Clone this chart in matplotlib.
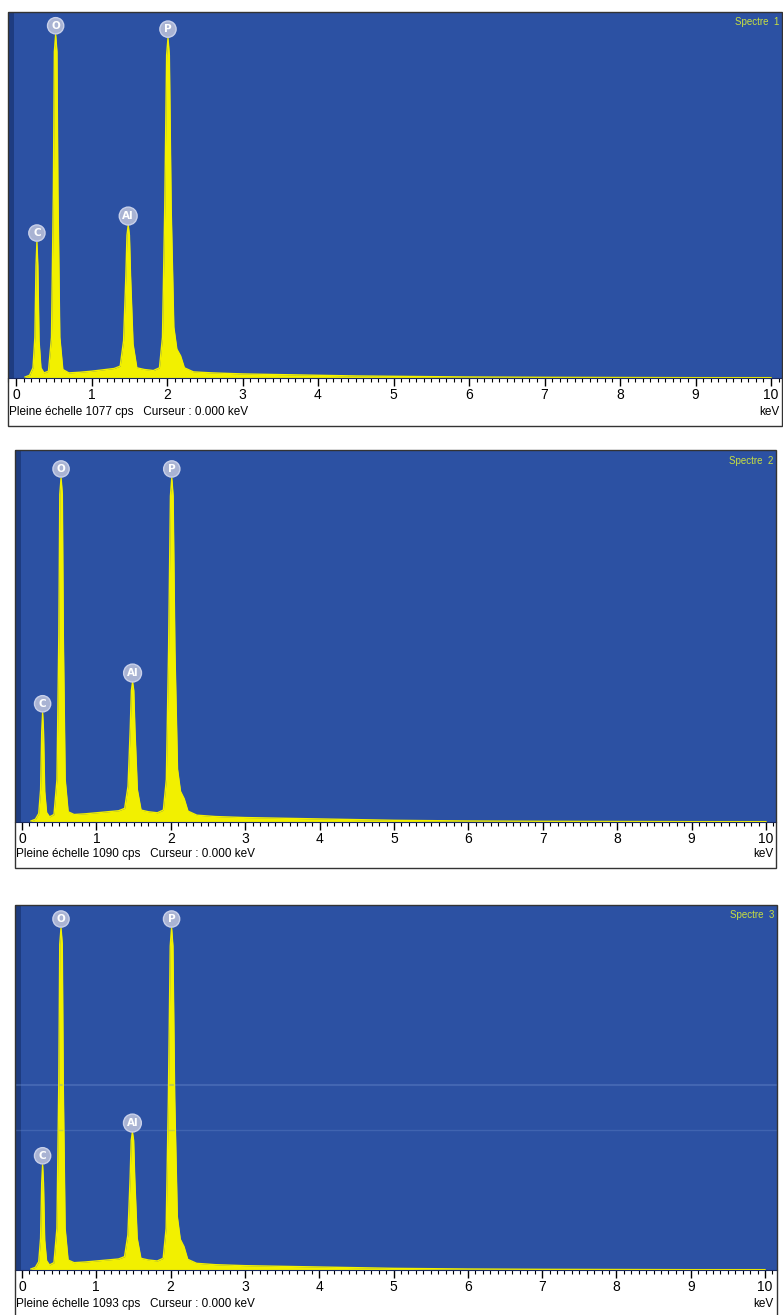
#!/usr/bin/env python3
"""EDS spectra (Spectre 1-3) - three stacked panels, saved as out.png."""

import matplotlib.pyplot as plt
from matplotlib.patches import Rectangle
from matplotlib.ticker import MultipleLocator

W, H = 783, 1315

# ------------------------------------------------------------------
# Data (keV / cps)
# ------------------------------------------------------------------
energy_kev = [0.12, 0.18, 0.225, 0.25, 0.265, 0.277, 0.289, 0.305, 0.33, 0.37,
              0.43, 0.47, 0.495, 0.508, 0.525, 0.542, 0.555, 0.58, 0.62, 0.70,
              0.85, 1.00, 1.15, 1.30, 1.38, 1.425, 1.455, 1.47, 1.486, 1.502,
              1.517, 1.55, 1.60, 1.70, 1.82, 1.90, 1.94, 1.97, 1.995, 2.013,
              2.031, 2.055, 2.09, 2.13, 2.18, 2.23, 2.35, 2.60, 3.0, 3.5,
              4.0, 4.5, 5.0, 5.5, 6.0, 7.0, 8.0, 9.0, 10.0]

spectre1_cps = [3, 8, 30, 120, 330, 400, 330, 110, 30, 15,
                20, 120, 550, 960, 1010, 960, 550, 120, 25, 15,
                17, 20, 24, 28, 35, 110, 300, 420, 450, 420,
                300, 100, 30, 25, 22, 30, 120, 500, 950, 1000,
                950, 500, 150, 85, 65, 30, 18, 15, 12, 10,
                8, 6, 5, 4, 3, 2, 1.5, 1, 1]

spectre2_cps = [3, 8, 25, 95, 265, 320, 265, 90, 28, 15,
                22, 125, 550, 960, 1008, 960, 550, 125, 30, 22,
                24, 27, 30, 33, 40, 105, 275, 385, 410, 385,
                275, 95, 35, 30, 27, 35, 125, 505, 955, 1008,
                955, 505, 155, 90, 68, 32, 20, 16, 13, 11,
                9, 7, 5, 4, 3, 2, 1.5, 1, 1]

spectre3_cps = [3, 8, 25, 95, 260, 315, 260, 90, 28, 15,
                22, 125, 560, 975, 1024, 975, 560, 125, 30, 22,
                24, 27, 30, 33, 40, 105, 275, 388, 413, 388,
                275, 95, 35, 30, 27, 35, 125, 515, 970, 1024,
                970, 515, 160, 92, 70, 32, 20, 16, 13, 11,
                9, 7, 5, 4, 3, 2, 1.5, 1, 1]

full_scale = [1077, 1090, 1093]
spectra = [spectre1_cps, spectre2_cps, spectre3_cps]
titles = ["Spectre  1", "Spectre  2", "Spectre  3"]

elements = ["C", "O", "Al", "P"]
element_kev = [0.277, 0.525, 1.486, 2.013]

# ------------------------------------------------------------------
# Layout (pixels): frame box, bottom of plot area, pixel of 0 and 10 keV
# ------------------------------------------------------------------
frames = [(8, 12, 782, 426), (15, 450, 776, 868), (15, 905, 777, 1318)]
plot_bottom = [378, 822, 1270]
tick_px = [(16, 771), (22, 766), (22, 765)]

BLUE = "#2c51a3"
YELLOW = "#f2f000"
NARROW = ["Liberation Sans Narrow", "Liberation Sans", "DejaVu Sans"]


def fx(px):
    return px / W


def fy(py):
    return 1 - py / H


fig = plt.figure(figsize=(W / 100, H / 100), dpi=100)

for i in range(3):
    x0, y0, x1, y1 = frames[i]
    pb = plot_bottom[i]
    ax = fig.add_axes([fx(x0), fy(pb), fx(x1 - x0), (pb - y0) / H])
    ax.set_facecolor(BLUE)

    # map pixel frame to keV limits
    t0, t10 = tick_px[i]
    k = (t10 - t0) / 10.0
    ax.set_xlim((x0 - t0) / k, (x1 - t0) / k)
    ax.set_ylim(0, full_scale[i])

    # darker strip on the left edge
    ax.axvspan((x0 - t0) / k, (x0 + 6 - t0) / k, color="#1e3c80", lw=0)
    if i == 2:
        # faint scan lines in the third panel
        ax.axhline(555, color="#7090d0", lw=1.5, alpha=0.35)
        ax.axhline(420, color="#7090d0", lw=1.0, alpha=0.3)

    ax.fill_between(energy_kev, 0, spectra[i], color=YELLOW, lw=0)
    ax.plot(energy_kev, spectra[i], color=YELLOW, lw=1.0)

    # element labels
    for name, e in zip(elements, element_kev):
        idx = energy_kev.index(e)
        ax.annotate(name, xy=(e, spectra[i][idx]), xytext=(0, 6.5),
                    textcoords="offset points", ha="center", va="center",
                    fontsize=7.5, color="white", fontweight="bold",
                    bbox=dict(boxstyle="circle,pad=0.3", fc="#a9b3d3",
                              ec="#c8d0ea", lw=1.0))

    ax.text(0.997, 0.985, titles[i], transform=ax.transAxes, ha="right",
            va="top", fontsize=7, color="#c8e040", family=NARROW)

    # ruler
    ax.set_xticks(range(0, 11))
    ax.xaxis.set_minor_locator(MultipleLocator(0.1))
    ax.tick_params(axis="x", which="major", length=6, width=1, pad=1,
                   labelsize=10, direction="out")
    ax.tick_params(axis="x", which="minor", length=3, width=0.8,
                   direction="out")
    for lab in ax.get_xticklabels():
        lab.set_family(NARROW)
    ax.set_yticks([])
    for s in ax.spines.values():
        s.set_visible(False)
    ax.spines["bottom"].set_visible(True)
    ax.spines["bottom"].set_color("#1a2a60")

    # bottom caption line
    fig.text(fx(x0 + 1), fy(y1 - 11), f"Pleine échelle {full_scale[i]} cps   "
             "Curseur : 0.000 keV", fontsize=8.5, family=NARROW,
             va="baseline", ha="left")
    fig.text(fx(x1 - 3), fy(y1 - 11), "keV", fontsize=8.5, family=NARROW,
             va="baseline", ha="right")

    # outer frame
    fig.add_artist(Rectangle((fx(x0), fy(y1)), fx(x1 - x0), (y1 - y0) / H,
                             transform=fig.transFigure, fill=False,
                             ec="#333333", lw=1.0))

fig.savefig("out.png", dpi=100)
